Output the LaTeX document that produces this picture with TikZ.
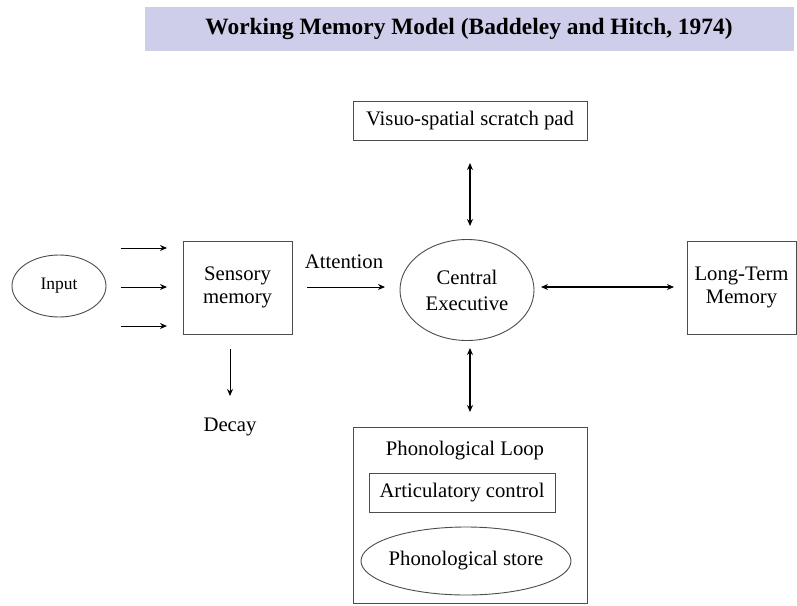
\documentclass[tikz,border=0pt]{standalone}
\usepackage{fontspec}
\setmainfont{Liberation Serif}
\usetikzlibrary{arrows.meta,shapes.geometric}
\tikzset{
  txt/.style={font=\fontsize{20.7}{23}\selectfont, align=center, inner sep=0pt},
  boxnode/.style={draw=black!70, line width=0.9pt, rectangle, inner sep=0pt, txt},
  ellnode/.style={draw=black!70, line width=0.9pt, ellipse, inner sep=0pt, txt},
  arr/.style={line width=1pt, -{Stealth[length=7pt,width=6pt]}},
  darr/.style={line width=1.2pt, {Stealth[length=7pt,width=6pt]}-{Stealth[length=7pt,width=6pt]}},
}
\definecolor{bandcol}{RGB}{206,206,234}
\begin{document}
\begin{tikzpicture}[x=1pt,y=-1pt]
\useasboundingbox (0,0) rectangle (797,605);
\fill[white] (0,0) rectangle (797,605);
% title
\node[fill=bandcol, minimum width=649pt, minimum height=44pt, inner sep=0pt,
      font=\fontsize{23.4}{26}\selectfont\bfseries] (title) at (469,29)
      {Working Memory Model (Baddeley and Hitch, 1974)};
% nodes
\node[ellnode, minimum width=94pt, minimum height=62pt, font=\fontsize{17.5}{20}\selectfont] (input) at (59,286) {Input};
\node[boxnode, minimum width=109pt, minimum height=93pt] (sens) at (237.5,287.5) {Sensory\\memory};
\node[ellnode, minimum width=134pt, minimum height=101pt, font=\fontsize{20.7}{26}\selectfont] (ce) at (467,290) {Central\\Executive};
\node[boxnode, minimum width=234pt, minimum height=39pt] (vs) at (470,120.5) {Visuo-spatial scratch pad};
\node[boxnode, minimum width=109pt, minimum height=93pt] (ltm) at (741.5,287.5) {Long-Term\\Memory};
\node[boxnode, minimum width=234pt, minimum height=176pt] (pl) at (470,515) {};
\node[txt] (pltitle) at (465,451) {Phonological Loop};
\node[boxnode, minimum width=186pt, minimum height=39pt] (art) at (462,492.5) {Articulatory control};
\node[ellnode, inner xsep=-5pt, minimum width=210pt, minimum height=68pt] (ps) at (466,561) {Phonological store};
\node[txt] (att) at (344,262) {Attention};
\node[txt] (decay) at (230,427) {Decay};
% free arrow ends
\coordinate (i1s) at (121,248); \coordinate (i1e) at (167,248);
\coordinate (i2s) at (121,287); \coordinate (i2e) at (167,287);
\coordinate (i3s) at (121,326); \coordinate (i3e) at (167,326);
\coordinate (as) at (307,287); \coordinate (ae) at (385,287);
\coordinate (ds) at (230,349); \coordinate (de) at (230,396);
\coordinate (vt) at (470,163); \coordinate (vb) at (470,226);
\coordinate (hl) at (541,287); \coordinate (hr) at (674,287);
\coordinate (lt) at (470,348); \coordinate (lb) at (470,412);
% arrows
\draw[arr] (i1s) -- (i1e);
\draw[arr] (i2s) -- (i2e);
\draw[arr] (i3s) -- (i3e);
\draw[arr] (as) -- (ae);
\draw[arr] (ds) -- (de);
\draw[darr] (vt) -- (vb);
\draw[darr] (hl) -- (hr);
\draw[darr] (lt) -- (lb);
\end{tikzpicture}
\end{document}
